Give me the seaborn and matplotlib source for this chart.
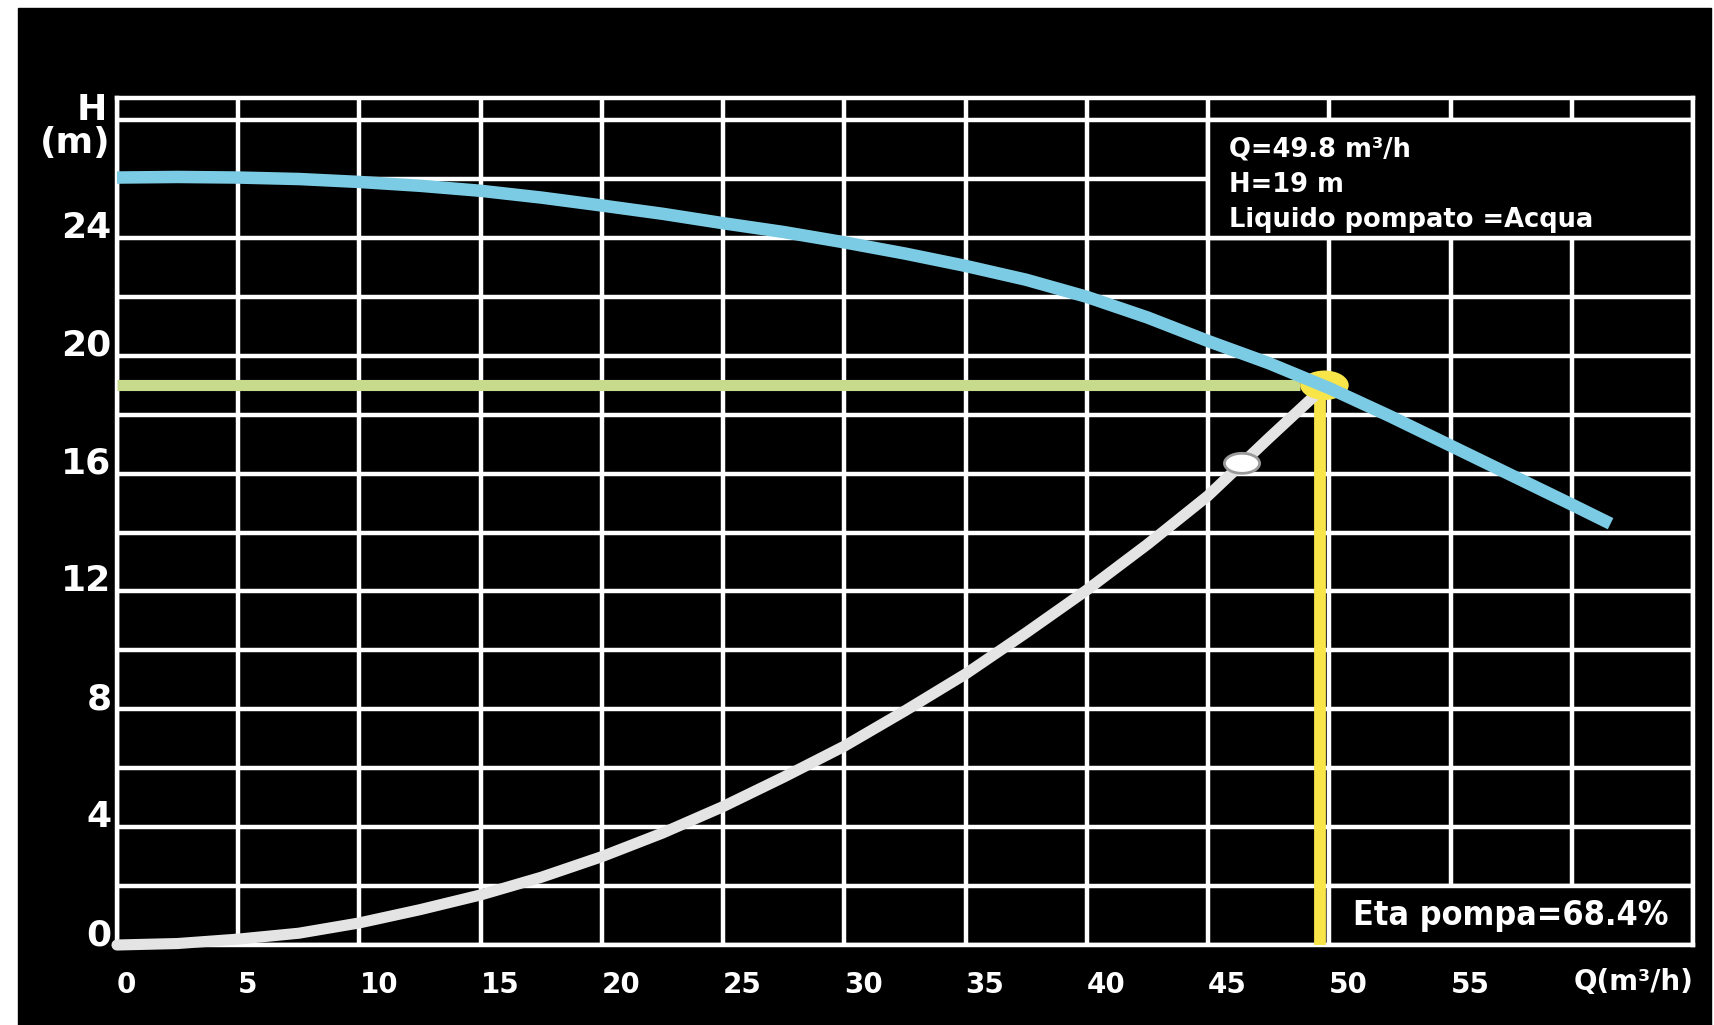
import matplotlib
matplotlib.use('Agg')
import matplotlib.pyplot as plt
import seaborn as sns
from matplotlib.patches import Rectangle, Ellipse

# Pump curve (H vs Q)
q_pump = [0, 2.5, 5, 7.5, 10, 12.5, 15, 17.5, 20, 22.5, 25, 27.5, 30, 32.5, 35, 37.5,
          40, 42.5, 45, 47.5, 50, 52.5, 55, 57.5, 60, 61.6]
h_pump = [26.05, 26.07, 26.05, 26.0, 25.9, 25.77, 25.6, 25.37, 25.1, 24.82, 24.5, 24.2,
          23.85, 23.47, 23.05, 22.58, 22.0, 21.3, 20.5, 19.75, 18.9, 17.95, 16.95, 15.95,
          14.95, 14.3]

# System curve
q_sys = [0, 2.5, 5, 7.5, 10, 12.5, 15, 17.5, 20, 22.5, 25, 27.5, 30, 32.5, 35, 37.5,
         40, 42.5, 45, 47.5, 49.4]
h_sys = [0, 0.05, 0.2, 0.4, 0.75, 1.2, 1.7, 2.3, 3.0, 3.8, 4.7, 5.7, 6.75, 7.95, 9.2,
         10.6, 12.05, 13.6, 15.25, 17.2, 18.65]

# Operating point + marker on system curve
q_op, h_op = 49.8, 19.0
q_line = 49.6
q_mark, h_mark = 46.4, 16.35

x_ticks = [0, 5, 10, 15, 20, 25, 30, 35, 40, 45, 50, 55, 60, 65]
x_labels = ['0', '5', '10', '15', '20', '25', '30', '35', '40', '45', '50', '55', '', '']
y_ticks = [0, 2, 4, 6, 8, 10, 12, 14, 16, 18, 20, 22, 24, 26, 28]
y_labels = ['0', '', '4', '', '8', '', '12', '', '16', '', '20', '', '24', '', '']

info_lines = ['Q=49.8 m³/h', 'H=19 m', 'Liquido pompato =Acqua']
eta_text = 'Eta pompa=68.4%'

sns.set_theme(style='dark')
plt.rcParams['font.family'] = ['DejaVu Sans']
plt.rcParams['font.weight'] = 'bold'

fig = plt.figure(figsize=(17.14, 10.25), dpi=100, facecolor='white')
fig.patches.append(Rectangle((18 / 1714, 0), (1711 - 18) / 1714, 1017 / 1025,
                             transform=fig.transFigure, color='black', zorder=-5))

ax = fig.add_axes([117 / 1714, 80 / 1025, (1693 - 117) / 1714, (945 - 98) / 1025])
ax.set_facecolor('black')
ax.set_xlim(0, 65)
ax.set_ylim(0, 28.75)

ax.set_xticks(x_ticks)
ax.set_xticklabels(x_labels)
ax.set_yticks(y_ticks)
ax.set_yticklabels(y_labels)
ax.grid(True, color='white', linewidth=3.2)
for s in ax.spines.values():
    s.set_color('white')
    s.set_linewidth(3.2)
ax.tick_params(length=0, colors='white')
ax.tick_params(axis='x', labelsize=20, pad=19)
ax.tick_params(axis='y', labelsize=26, pad=4)
plt.setp(ax.get_xticklabels(), ha='left', fontweight='bold')
plt.setp(ax.get_yticklabels(), va='baseline', fontweight='bold')
ax.set_xlabel('')
ax.set_ylabel('')

# boxes over the grid
ax.add_patch(Rectangle((45, 24), 20, 4, facecolor='black', edgecolor='white', lw=3.2, zorder=1))
ax.add_patch(Rectangle((50, 0), 15, 2, facecolor='black', edgecolor='white', lw=3.2, zorder=1))

# operating point guide lines
ax.plot([0, q_op - 1], [h_op, h_op], color='#c8db8d', lw=8, solid_capstyle='butt', zorder=3)
ax.plot([q_line, q_line], [0, h_op], color='#f8e54a', lw=8.5, solid_capstyle='butt', zorder=3)

# system curve
sns.lineplot(x=q_sys, y=h_sys, ax=ax, color='#e4e4e4', linewidth=8, zorder=4,
             solid_capstyle='round', clip_on=False)
ax.add_patch(Ellipse((q_mark, h_mark), 1.45, 0.68, facecolor='white', edgecolor='#9a9a9a',
                     lw=2, zorder=5))
ax.add_patch(Ellipse((q_op, h_op), 2.0, 1.0, facecolor='#f8e54a', edgecolor='none', zorder=5))

# pump curve
sns.lineplot(x=q_pump, y=h_pump, ax=ax, color='#7ccbe4', linewidth=9, zorder=6,
             solid_capstyle='butt')

# texts
for i, line in enumerate(info_lines):
    ax.text(45.85, 26.75 - i * 1.19, line, color='white', fontsize=18.5,
            fontweight='bold', va='baseline', ha='left', zorder=7)
ax.text(57.5, 1.0, eta_text, color='white', fontsize=24.5, fontweight='bold',
        fontstretch='condensed', ha='center', va='center', zorder=7)
ax.text(65, -(982 - 945) / 847, 'Q(m³/h)', transform=ax.get_xaxis_transform(),
        color='white', fontsize=20, fontweight='bold', ha='right', va='center')
fig.text(92 / 1714, 1 - 110 / 1025, 'H', color='white', fontsize=26, fontweight='bold',
         ha='center', va='center')
fig.text(75 / 1714, 1 - 143 / 1025, '(m)', color='white', fontsize=26, fontweight='bold',
         ha='center', va='center')

fig.savefig('out.png', dpi=100, facecolor='white')
